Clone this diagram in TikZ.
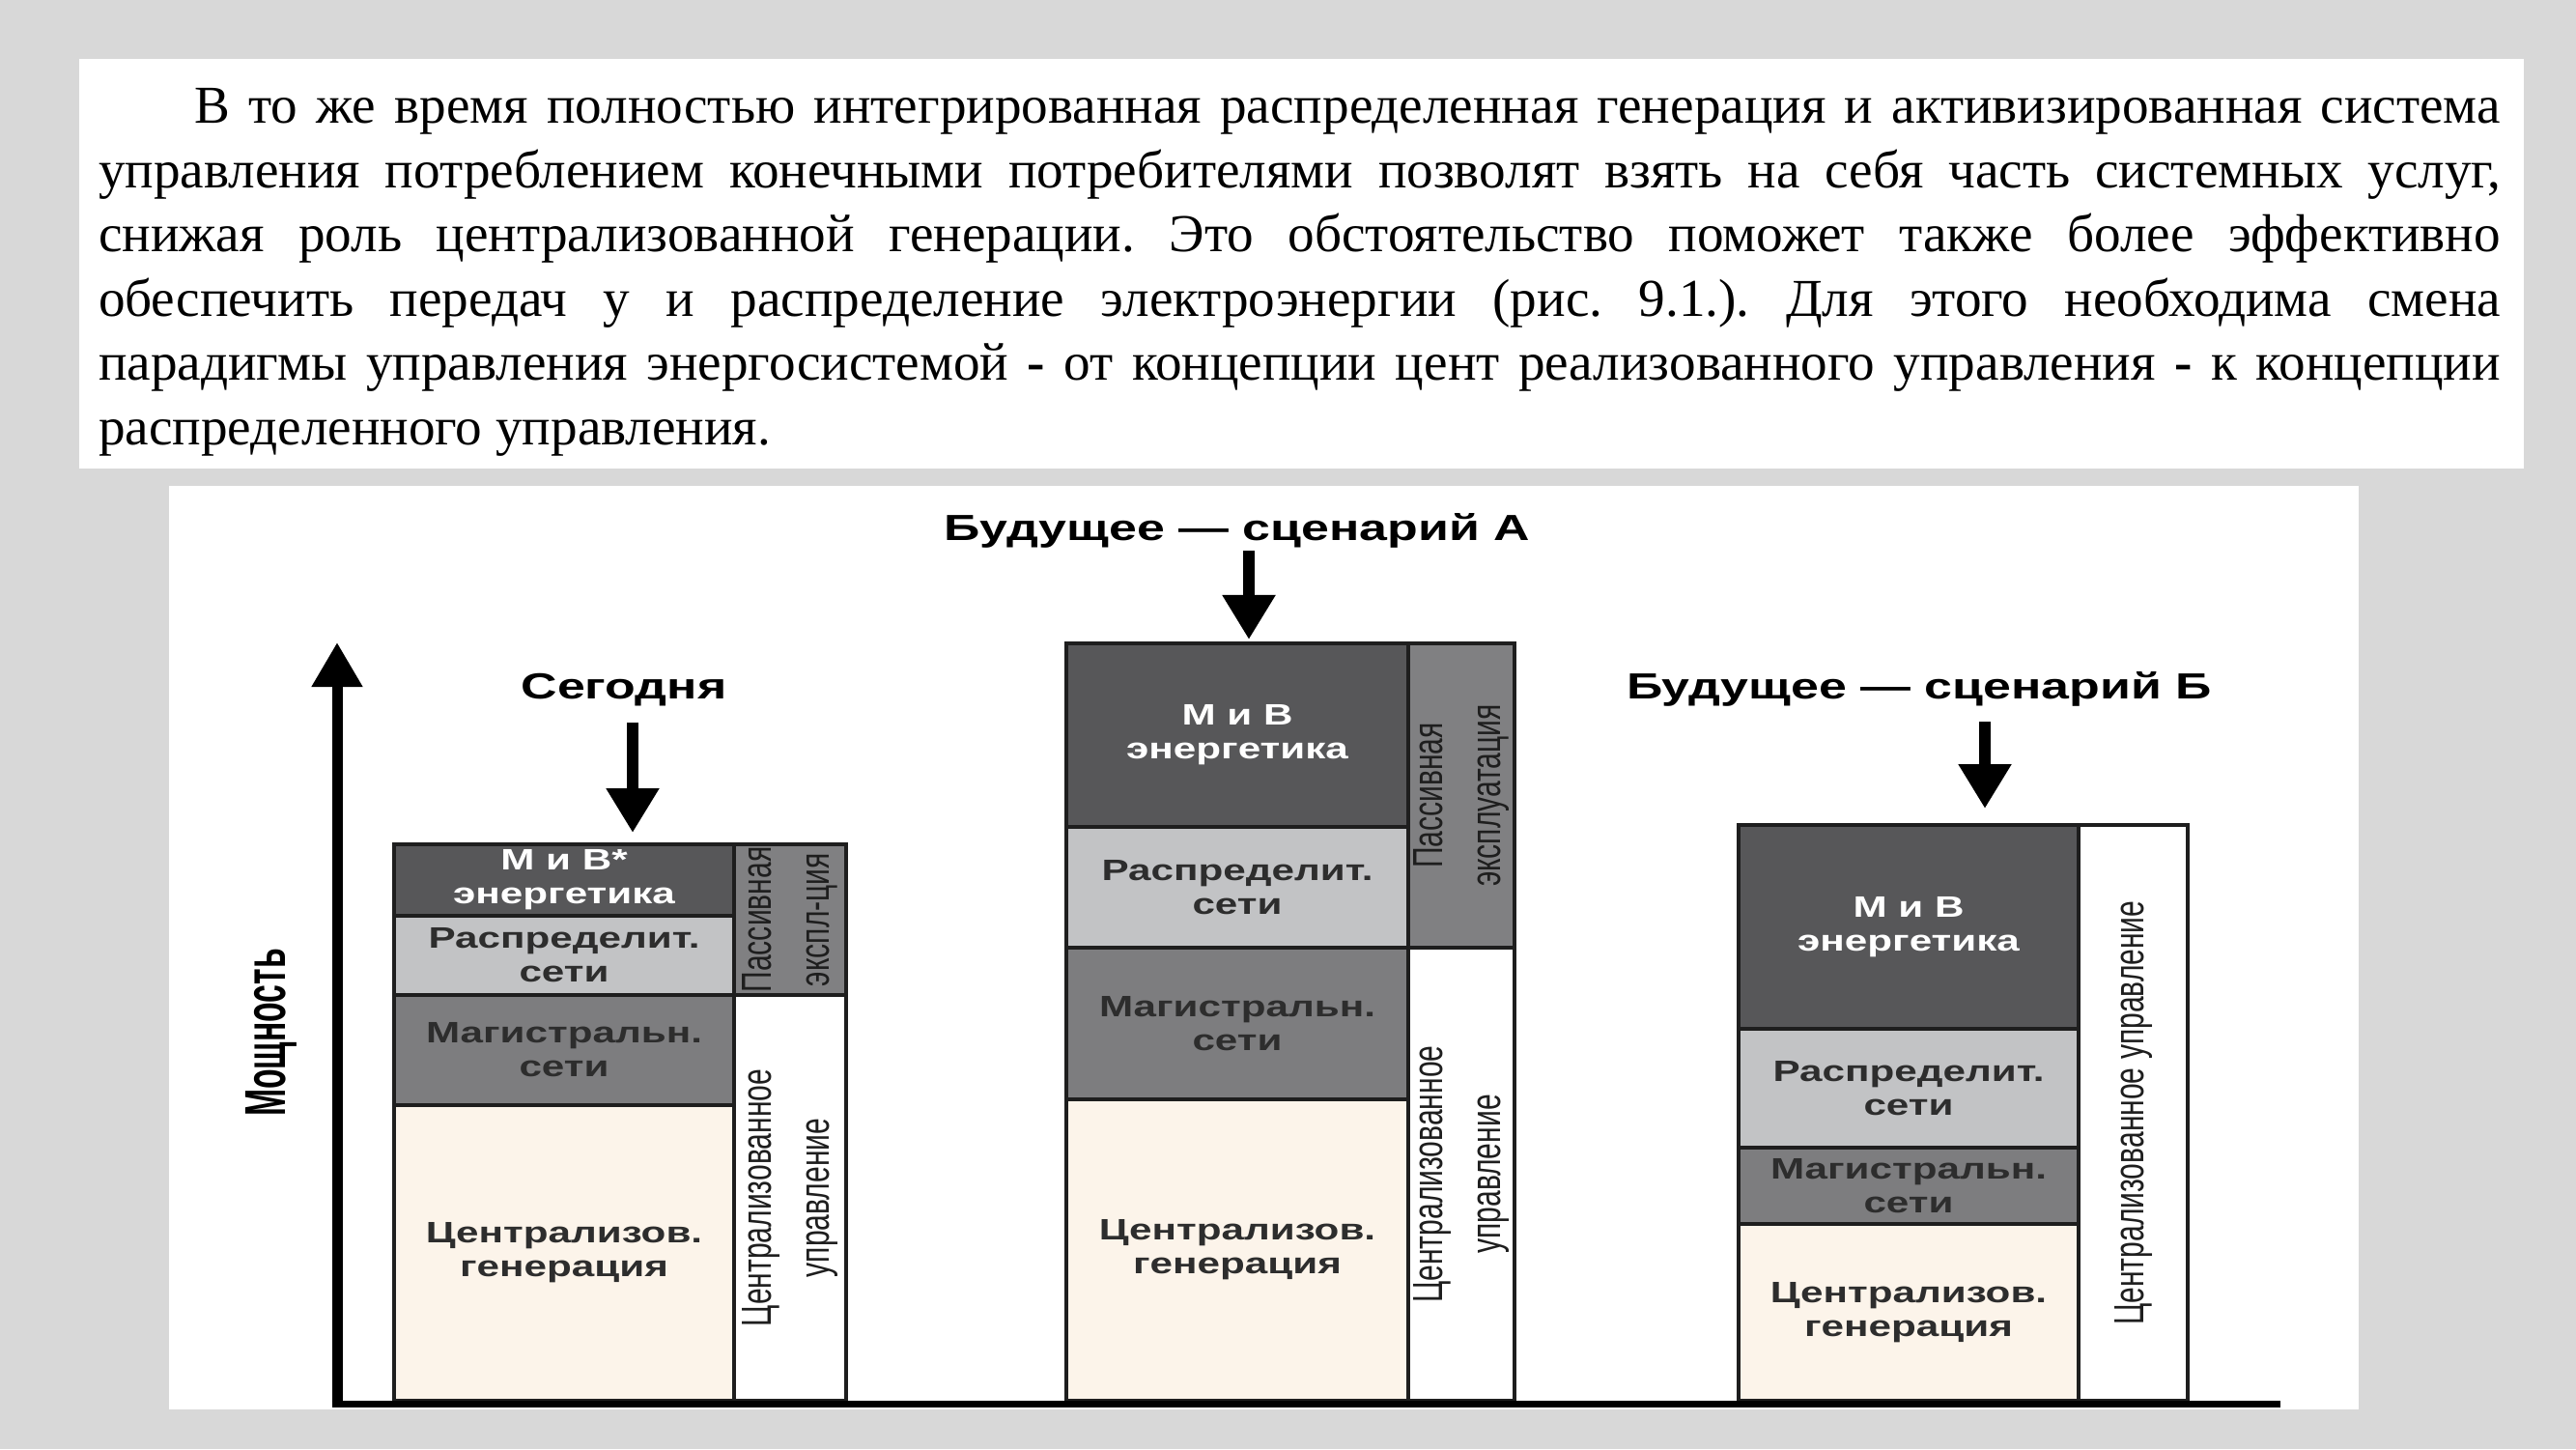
\documentclass[tikz,border=0pt]{standalone}
\usepackage{fontspec}
\setmainfont{Liberation Serif}
\newfontfamily\widesans[FakeStretch=1.38]{Liberation Sans}
\newfontfamily\narrowsans[FakeStretch=0.69]{Liberation Sans}
\newfontfamily\axissans[FakeStretch=0.565]{Liberation Sans}
\usetikzlibrary{arrows.meta}
\hyphenpenalty=10000
\exhyphenpenalty=10000
\frenchspacing

\definecolor{pagebg}{RGB}{216,216,216}
\definecolor{edgecol}{RGB}{30,30,30}
\definecolor{mvcol}{RGB}{87,87,89}
\definecolor{rscol}{RGB}{194,195,197}
\definecolor{mscol}{RGB}{125,125,127}
\definecolor{cgcol}{RGB}{252,244,234}
\definecolor{pecol}{RGB}{128,128,130}
\definecolor{labelcol}{RGB}{45,45,45}
\definecolor{sidecol}{RGB}{30,30,30}

\tikzset{
  seg/.style={draw=edgecol, line width=0.04cm, inner sep=0pt, outer sep=0pt,
    anchor=north west, align=center, text=labelcol,
    font=\widesans\bfseries\fontsize{8.7}{10}\selectfont},
  mv/.style={seg, fill=mvcol, text=white},
  rs/.style={seg, fill=rscol},
  ms/.style={seg, fill=mscol},
  cg/.style={seg, fill=cgcol},
  pe/.style={seg, fill=pecol},
  cu/.style={seg, fill=white},
  sidetext/.style={rotate=90, align=center, inner sep=0pt, text=sidecol,
    font=\narrowsans\fontsize{12.4}{17}\selectfont},
  title/.style={anchor=base, inner sep=0pt,
    font=\widesans\bfseries\fontsize{10.7}{12}\selectfont},
  pointer/.style={draw=black, line width=0.12cm,
    -{Triangle[length=0.46cm,width=0.52cm]}},
}

\begin{document}
\begin{tikzpicture}
% page and panels
\fill[pagebg] (0,0) rectangle (26.67,15);
\fill[white] (0.82,10.15) rectangle (26.13,14.39);
\fill[white] (1.75,0.41) rectangle (24.42,9.97);

% paragraph
\node[anchor=base west, inner sep=0pt, outer sep=0pt, text width=24.87cm,
  align=justify, font=\fontsize{15.7}{18.9}\selectfont] (para) at (1.02,13.72)
{\hspace*{0.99cm}В то же время полностью интегрированная распределенная генерация и активизированная система\linebreak
управления потреблением конечными потребителями позволят взять на себя часть системных услуг,\linebreak
снижая роль централизованной генерации. Это обстоятельство поможет также более эффективно\linebreak
обеспечить передач у и распределение электроэнергии (рис. 9.1.). Для этого необходима смена\linebreak
парадигмы управления энергосистемой \textbf{-} от концепции цент реализованного управления \textbf{-} к концепции\linebreak
распределенного управления.};

% bar 1: today
\node[mv, minimum width=3.52cm, minimum height=0.74cm] (b1mv) at (4.08,6.26) {М и В*\\энергетика};
\node[rs, minimum width=3.52cm, minimum height=0.82cm] (b1rs) at (4.08,5.52) {Распределит.\\сети};
\node[ms, minimum width=3.52cm, minimum height=1.14cm] (b1ms) at (4.08,4.70) {Магистральн.\\сети};
\node[cg, minimum width=3.52cm, minimum height=3.06cm] (b1cg) at (4.08,3.56) {Централизов.\\генерация};
\node[pe, minimum width=1.16cm, minimum height=1.56cm] (b1pe) at (7.60,6.26) {};
\node[cu, minimum width=1.16cm, minimum height=4.20cm] (b1cu) at (7.60,4.70) {};
\node[sidetext] (b1pet) at (b1pe.center) {Пассивная\\экспл-ция};
\node[sidetext] (b1cut) at (b1cu.center) {Централизованное\\управление};

% bar 2: scenario A
\node[mv, minimum width=3.54cm, minimum height=1.90cm] (b2mv) at (11.04,8.34) {М и В\\энергетика};
\node[rs, minimum width=3.54cm, minimum height=1.25cm] (b2rs) at (11.04,6.44) {Распределит.\\сети};
\node[ms, minimum width=3.54cm, minimum height=1.57cm] (b2ms) at (11.04,5.19) {Магистральн.\\сети};
\node[cg, minimum width=3.54cm, minimum height=3.12cm] (b2cg) at (11.04,3.62) {Централизов.\\генерация};
\node[pe, minimum width=1.10cm, minimum height=3.15cm] (b2pe) at (14.58,8.34) {};
\node[cu, minimum width=1.10cm, minimum height=4.69cm] (b2cu) at (14.58,5.19) {};
\node[sidetext] (b2pet) at (b2pe.center) {Пассивная\\эксплуатация};
\node[sidetext] (b2cut) at (b2cu.center) {Централизованное\\управление};

% bar 3: scenario B
\node[mv, minimum width=3.52cm, minimum height=2.11cm] (b3mv) at (18.00,6.46) {М и В\\энергетика};
\node[rs, minimum width=3.52cm, minimum height=1.23cm] (b3rs) at (18.00,4.35) {Распределит.\\сети};
\node[ms, minimum width=3.52cm, minimum height=0.79cm] (b3ms) at (18.00,3.12) {Магистральн.\\сети};
\node[cg, minimum width=3.52cm, minimum height=1.83cm] (b3cg) at (18.00,2.33) {Централизов.\\генерация};
\node[cu, minimum width=1.13cm, minimum height=5.96cm] (b3cu) at (21.52,6.46) {};
\node[sidetext] (b3cut) at (b3cu.center) {Централизованное управление};

% axes
\coordinate (axbot) at (3.49,0.435);
\coordinate (axtop) at (3.49,8.35);
\coordinate (xl) at (3.435,0.47);
\coordinate (xr) at (23.61,0.47);
\draw[line width=0.07cm] (xl) -- (xr);
\draw[line width=0.11cm, -{Triangle[length=0.46cm,width=0.50cm]}] (axbot) -- (axtop);
\node[rotate=90, inner sep=0pt, font=\axissans\bfseries\fontsize{17}{17}\selectfont] (ylabel) at (2.81,4.31) {Мощность};

% titles and pointers
\node[title] (t1) at (6.46,7.77) {Сегодня};
\node[title] (t2) at (12.81,9.40) {Будущее — сценарий А};
\node[title] (t3) at (19.87,7.77) {Будущее — сценарий Б};
\coordinate (a1s) at (6.55,7.52);
\coordinate (a1e) at (6.55,6.38);
\coordinate (a2s) at (12.93,9.30);
\coordinate (a2e) at (12.93,8.38);
\coordinate (a3s) at (20.55,7.53);
\coordinate (a3e) at (20.55,6.63);
\draw[pointer] (a1s) -- (a1e);
\draw[pointer] (a2s) -- (a2e);
\draw[pointer] (a3s) -- (a3e);
\end{tikzpicture}
\end{document}
